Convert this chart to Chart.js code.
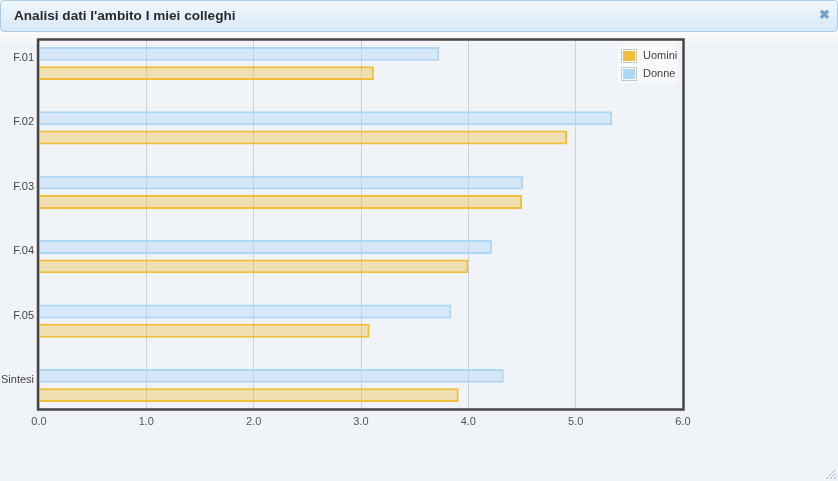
<!DOCTYPE html>
<html>
<head>
<meta charset="utf-8">
<script src="https://cdn.jsdelivr.net/npm/chart.js@4/dist/chart.umd.min.js"></script>
<style>
  html, body { margin:0; padding:0; }
  body { width:838px; height:481px; position:relative; overflow:hidden;
         background: linear-gradient(to bottom, #fbfcfd 32px, #f0f3f7 46px, #f0f3f7 100%);
         font-family: "Liberation Sans", Arial, sans-serif; }
  #hdr { position:absolute; left:0; top:0; width:836px; height:30px;
         border:1px solid #abcbe6; border-radius:4px;
         background: linear-gradient(to bottom, #f1f7fd, #d8e8f7); z-index:2; }
  #hdr .t { position:absolute; left:13px; top:7px; font-weight:bold; font-size:13.6px; color:#2a2a2a; }
  #hdr .x { position:absolute; left:818px; top:6px; font-weight:bold; font-size:13px; color:#76a3cd; }
  #wrap { position:absolute; left:0; top:0; width:838px; height:481px; z-index:1; }
  #legend { position:absolute; left:618px; top:45px; width:59px; height:38px; background:#f8f9fb; z-index:3;
            font-size:11px; color:#444; }
  .row { position:absolute; left:3px; height:14px; }
  .sw { position:absolute; left:0; top:0; width:14px; height:12px; border:1px solid #c8c8c8; padding:0; }
  .sw i { position:absolute; left:1px; top:1px; width:12px; height:10px; display:block; }
  .lab { position:absolute; left:22px; top:0px; line-height:13px; white-space:nowrap; }
  #grip { position:absolute; right:1px; bottom:1px; z-index:3; }
</style>
</head>
<body>
<div id="hdr"><span class="t">Analisi dati l'ambito I miei colleghi</span><span class="x">✖</span></div>
<div id="wrap"><canvas id="c" width="838" height="481"></canvas></div>
<div id="legend">
  <div class="row" style="top:4px"><span class="sw"><i style="background:#efbf3a"></i></span><span class="lab">Uomini</span></div>
  <div class="row" style="top:22px"><span class="sw"><i style="background:#aed6f7"></i></span><span class="lab">Donne</span></div>
</div>
<svg id="grip" width="12" height="12" viewBox="0 0 12 12">
  <path d="M1 11 L11 1 M5 11 L11 5 M9 11 L11 9" stroke="#5b93c8" stroke-width="1" stroke-dasharray="1 1" fill="none"/>
</svg>
<script>
const categories = ["F.01", "F.02", "F.03", "F.04", "F.05", "Sintesi"];
const donne  = [3.73, 5.34, 4.51, 4.22, 3.84, 4.33];
const uomini = [3.12, 4.92, 4.50, 4.00, 3.08, 3.91];
const xTicks = [0, 1, 2, 3, 4, 5, 6];

const frame = {
  id: 'frame',
  afterDraw(chart) {
    const a = chart.chartArea, ctx = chart.ctx;
    ctx.save();
    ctx.strokeStyle = '#474747';
    ctx.lineWidth = 2.5;
    ctx.strokeRect(a.left - 1, a.top - 0.5, a.right - a.left + 1.5, a.bottom - a.top + 1);
    ctx.restore();
  }
};

new Chart(document.getElementById('c'), {
  type: 'bar',
  data: {
    datasets: [
      { label: 'Donne', data: donne.map((v, i) => ({ x: v, y: i })),
        backgroundColor: 'rgba(174,214,247,0.4)', borderColor: '#aed6f7', borderWidth: 2,
        barPercentage: 0.72, categoryPercentage: 0.6 },
      { label: 'Uomini', data: uomini.map((v, i) => ({ x: v, y: i })),
        backgroundColor: 'rgba(239,191,58,0.37)', borderColor: '#efbf3a', borderWidth: 2,
        barPercentage: 0.72, categoryPercentage: 0.6 }
    ]
  },
  options: {
    indexAxis: 'y',
    responsive: false,
    animation: false,
    layout: { padding: { left: 0, top: 40, right: 155, bottom: 52 } },
    plugins: { legend: { display: false }, tooltip: { enabled: false } },
    scales: {
      x: {
        type: 'linear', min: 0, max: 6, offset: false,
        afterBuildTicks: s => { s.ticks = xTicks.map(v => ({ value: v })); },
        afterFit: s => { s.height = 20; },
        grid: { color: '#cdd1d6', lineWidth: 1, drawTicks: false, offset: false },
        border: { display: false },
        ticks: { padding: 6, color: '#555', font: { family: 'Liberation Sans', size: 11 },
                 callback: v => Number(v).toFixed(1) }
      },
      y: {
        type: 'linear', reverse: true, min: -0.365, max: 5.365, offset: false, bounds: 'data',
        afterBuildTicks: s => { s.ticks = categories.map((c, i) => ({ value: i })); },
        afterFit: s => { s.width = 39; },
        grid: { display: false, drawTicks: false, offset: false },
        border: { display: false },
        ticks: { padding: 5, labelOffset: -5.5, color: '#444', font: { family: 'Liberation Sans', size: 11 },
                 callback: v => categories[v] }
      }
    }
  },
  plugins: [frame]
});
</script>
</body>
</html>
